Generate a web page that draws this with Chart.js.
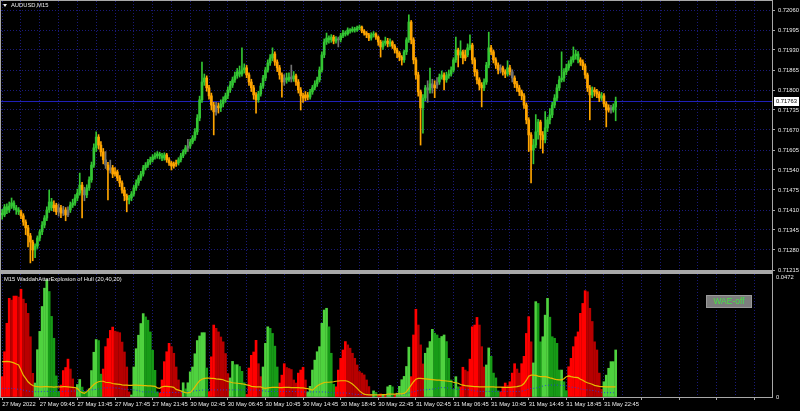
<!DOCTYPE html>
<html>
<head>
<meta charset="utf-8">
<title>AUDUSD,M15</title>
<script src="https://cdn.jsdelivr.net/npm/chart.js@4.4.1/dist/chart.umd.min.js"></script>
<style>
  html, body { margin: 0; padding: 0; background: #000; }
  #wrap { position: relative; width: 800px; height: 411px; overflow: hidden; background: #000; }
  canvas { position: absolute; left: 0; }
  #waeChart { top: 271px; }
  #priceChart { top: 0; }
  .txt { position: absolute; color: #ececec; font-family: 'Liberation Sans', Arial, sans-serif; font-size: 5.8px; line-height: 7px; white-space: nowrap; }
  #symbol { left: 11px; top: 2px; }
  #arrow { position: absolute; left: 3px; top: 4px; width: 0; height: 0; border-left: 2.5px solid transparent; border-right: 2.5px solid transparent; border-top: 3px solid #ececec; }
  #indName { left: 4px; top: 276px; }
  #waeBtn { position: absolute; left: 706px; top: 295px; width: 44px; height: 11px; background: #7d7d7d; border: 1px solid #9a9a9a; color: #44dd44; font: 8.5px 'Liberation Sans', Arial, sans-serif; line-height: 11px; text-align: center; }
</style>
</head>
<body>
<div id="wrap">
  <canvas id="waeChart" width="800" height="140"></canvas>
  <canvas id="priceChart" width="800" height="276"></canvas>
  <div id="arrow"></div>
  <div class="txt" id="symbol">AUDUSD,M15</div>
  <div class="txt" id="indName">M15 WaddahAttarExplosion of Hull (20,40,20)</div>
  <div id="waeBtn">WAE-off</div>
</div>
<script>
// time axis labels, one every 16 bars (4 hours of M15)
const timeLabels = ['27 May 2022', '27 May 09:45', '27 May 13:45', '27 May 17:45', '27 May 21:45',
  '30 May 02:45', '30 May 06:45', '30 May 10:45', '30 May 14:45', '30 May 18:45', '30 May 22:45',
  '31 May 02:45', '31 May 06:45', '31 May 10:45', '31 May 14:45', '31 May 18:45', '31 May 22:45'];
const priceTicks = [0.72060, 0.71995, 0.71930, 0.71865, 0.71800, 0.71735, 0.71670,
  0.71605, 0.71540, 0.71475, 0.71410, 0.71345, 0.71280, 0.71215];
const waeTicks = [0, 0.0472];
const bidPrice = 0.71763;

const open = [
  0.71400,0.71394,0.71420,0.71410,0.71423,0.71433,0.71417,0.71410,0.71404,0.71391,
  0.71371,0.71352,0.71326,0.71306,0.71280,0.71293,0.71319,0.71339,0.71361,0.71384,
  0.71410,0.71436,0.71417,0.71426,0.71404,0.71417,0.71400,0.71410,0.71394,0.71410,
  0.71426,0.71433,0.71449,0.71465,0.71491,0.71475,0.71459,0.71482,0.71508,0.71556,
  0.71612,0.71647,0.71621,0.71599,0.71573,0.71556,0.71540,0.71547,0.71527,0.71534,
  0.71514,0.71498,0.71475,0.71456,0.71443,0.71449,0.71462,0.71482,0.71498,0.71514,
  0.71527,0.71547,0.71556,0.71566,0.71573,0.71582,0.71586,0.71592,0.71586,0.71579,
  0.71589,0.71573,0.71563,0.71553,0.71560,0.71563,0.71573,0.71586,0.71599,0.71612,
  0.71618,0.71631,0.71644,0.71664,0.71709,0.71768,0.71826,0.71839,0.71807,0.71781,
  0.71751,0.71729,0.71748,0.71742,0.71755,0.71768,0.71781,0.71800,0.71816,0.71833,
  0.71846,0.71859,0.71852,0.71865,0.71872,0.71849,0.71826,0.71807,0.71784,0.71768,
  0.71787,0.71813,0.71839,0.71865,0.71888,0.71904,0.71917,0.71891,0.71872,0.71849,
  0.71826,0.71839,0.71833,0.71842,0.71836,0.71846,0.71826,0.71800,0.71781,0.71774,
  0.71784,0.71777,0.71794,0.71807,0.71820,0.71833,0.71865,0.71914,0.71956,0.71969,
  0.71963,0.71972,0.71959,0.71966,0.71963,0.71976,0.71985,0.71982,0.71995,0.71992,
  0.71998,0.71995,0.72002,0.72005,0.71992,0.71985,0.71979,0.71969,0.71979,0.71982,
  0.71972,0.71956,0.71940,0.71953,0.71959,0.71950,0.71956,0.71943,0.71930,0.71920,
  0.71907,0.71898,0.71924,0.71963,0.72021,0.71963,0.71898,0.71849,0.71794,0.71742,
  0.71774,0.71807,0.71800,0.71820,0.71807,0.71816,0.71826,0.71842,0.71849,0.71833,
  0.71846,0.71852,0.71865,0.71898,0.71930,0.71914,0.71924,0.71904,0.71914,0.71937,
  0.71946,0.71898,0.71859,0.71833,0.71816,0.71807,0.71826,0.71881,0.71937,0.71924,
  0.71898,0.71881,0.71865,0.71872,0.71859,0.71852,0.71872,0.71859,0.71839,0.71820,
  0.71807,0.71794,0.71781,0.71751,0.71703,0.71654,0.71605,0.71621,0.71664,0.71696,
  0.71654,0.71638,0.71677,0.71703,0.71719,0.71751,0.71774,0.71807,0.71833,0.71839,
  0.71859,0.71872,0.71885,0.71898,0.71911,0.71917,0.71898,0.71891,0.71878,0.71849,
  0.71807,0.71784,0.71800,0.71794,0.71787,0.71774,0.71781,0.71755,0.71735,0.71742,
  0.71735,0.71745
];
const high = [
  0.71412,0.71428,0.71430,0.71436,0.71449,0.71440,0.71425,0.71418,0.71410,0.71398,
  0.71378,0.71360,0.71334,0.71312,0.71300,0.71326,0.71346,0.71372,0.71392,0.71420,
  0.71475,0.71448,0.71440,0.71432,0.71430,0.71425,0.71422,0.71418,0.71420,0.71436,
  0.71445,0.71460,0.71478,0.71530,0.71500,0.71484,0.71492,0.71518,0.71566,0.71625,
  0.71664,0.71655,0.71632,0.71610,0.71600,0.71565,0.71572,0.71555,0.71548,0.71540,
  0.71522,0.71505,0.71484,0.71462,0.71458,0.71470,0.71490,0.71508,0.71522,0.71536,
  0.71555,0.71564,0.71575,0.71582,0.71590,0.71596,0.71600,0.71598,0.71594,0.71596,
  0.71594,0.71580,0.71568,0.71566,0.71572,0.71580,0.71594,0.71606,0.71620,0.71640,
  0.71640,0.71652,0.71675,0.71720,0.71780,0.71891,0.71852,0.71846,0.71815,0.71790,
  0.71760,0.71760,0.71758,0.71768,0.71778,0.71790,0.71810,0.71828,0.71842,0.71858,
  0.71870,0.71878,0.71937,0.71885,0.71880,0.71856,0.71835,0.71815,0.71792,0.71796,
  0.71822,0.71848,0.71874,0.71898,0.71915,0.71937,0.71924,0.71898,0.71880,0.71856,
  0.71850,0.71855,0.71856,0.71881,0.71860,0.71852,0.71834,0.71808,0.71790,0.71795,
  0.71792,0.71802,0.71815,0.71830,0.71842,0.71875,0.71924,0.71966,0.71985,0.71976,
  0.71980,0.71978,0.71974,0.71972,0.71984,0.71994,0.71992,0.72002,0.72000,0.72005,
  0.72004,0.72008,0.72011,0.72008,0.71996,0.71990,0.71984,0.71986,0.71990,0.71986,
  0.71976,0.71962,0.71960,0.71972,0.71968,0.71966,0.71960,0.71948,0.71936,0.71925,
  0.71912,0.71930,0.71970,0.72044,0.72026,0.71970,0.71905,0.71858,0.71800,0.71785,
  0.71815,0.71830,0.71871,0.71835,0.71830,0.71840,0.71852,0.71862,0.71856,0.71858,
  0.71865,0.71875,0.71905,0.71972,0.71936,0.71960,0.71930,0.71930,0.71950,0.71979,
  0.71952,0.71905,0.71866,0.71840,0.71824,0.71836,0.71890,0.71988,0.71945,0.71930,
  0.71905,0.71888,0.71882,0.71878,0.71866,0.71895,0.71880,0.71866,0.71846,0.71828,
  0.71815,0.71800,0.71788,0.71758,0.71710,0.71662,0.71640,0.71720,0.71705,0.71702,
  0.71665,0.71730,0.71712,0.71740,0.71760,0.71785,0.71818,0.71845,0.71924,0.71870,
  0.71884,0.71895,0.71908,0.71940,0.71930,0.71925,0.71905,0.71898,0.71885,0.71855,
  0.71815,0.71810,0.71808,0.71802,0.71795,0.71792,0.71788,0.71762,0.71752,0.71750,
  0.71755,0.71777
];
const low = [
  0.71380,0.71388,0.71398,0.71402,0.71415,0.71410,0.71396,0.71395,0.71382,0.71360,
  0.71330,0.71290,0.71238,0.71245,0.71255,0.71285,0.71310,0.71330,0.71352,0.71375,
  0.71402,0.71408,0.71405,0.71395,0.71390,0.71385,0.71392,0.71375,0.71388,0.71402,
  0.71418,0.71425,0.71440,0.71458,0.71384,0.71440,0.71450,0.71474,0.71500,0.71548,
  0.71600,0.71608,0.71585,0.71560,0.71545,0.71443,0.71530,0.71515,0.71520,0.71505,
  0.71486,0.71465,0.71440,0.71404,0.71430,0.71440,0.71455,0.71474,0.71490,0.71506,
  0.71520,0.71540,0.71548,0.71558,0.71566,0.71575,0.71578,0.71576,0.71570,0.71572,
  0.71565,0.71555,0.71540,0.71546,0.71552,0.71556,0.71566,0.71580,0.71592,0.71600,
  0.71610,0.71625,0.71636,0.71655,0.71700,0.71760,0.71815,0.71796,0.71770,0.71735,
  0.71654,0.71718,0.71725,0.71730,0.71745,0.71760,0.71772,0.71792,0.71808,0.71825,
  0.71838,0.71842,0.71845,0.71855,0.71840,0.71815,0.71795,0.71770,0.71725,0.71760,
  0.71780,0.71805,0.71830,0.71858,0.71880,0.71895,0.71880,0.71860,0.71835,0.71777,
  0.71815,0.71822,0.71828,0.71826,0.71828,0.71815,0.71790,0.71735,0.71760,0.71765,
  0.71768,0.71770,0.71786,0.71800,0.71812,0.71826,0.71858,0.71905,0.71948,0.71952,
  0.71955,0.71950,0.71952,0.71940,0.71956,0.71970,0.71975,0.71978,0.71985,0.71988,
  0.71988,0.71990,0.71996,0.71986,0.71978,0.71970,0.71960,0.71962,0.71972,0.71964,
  0.71945,0.71907,0.71932,0.71945,0.71940,0.71942,0.71935,0.71920,0.71905,0.71895,
  0.71881,0.71890,0.71915,0.71955,0.71950,0.71885,0.71835,0.71780,0.71621,0.71660,
  0.71765,0.71760,0.71790,0.71790,0.71775,0.71805,0.71818,0.71835,0.71800,0.71825,
  0.71838,0.71845,0.71858,0.71890,0.71875,0.71905,0.71885,0.71895,0.71908,0.71930,
  0.71885,0.71845,0.71820,0.71800,0.71745,0.71798,0.71818,0.71872,0.71915,0.71888,
  0.71870,0.71852,0.71855,0.71848,0.71840,0.71845,0.71848,0.71826,0.71808,0.71795,
  0.71782,0.71768,0.71740,0.71690,0.71600,0.71498,0.71560,0.71612,0.71640,0.71610,
  0.71595,0.71628,0.71665,0.71690,0.71710,0.71742,0.71765,0.71798,0.71826,0.71828,
  0.71850,0.71864,0.71878,0.71890,0.71900,0.71888,0.71880,0.71866,0.71838,0.71795,
  0.71703,0.71775,0.71780,0.71775,0.71762,0.71766,0.71745,0.71680,0.71728,0.71725,
  0.71728,0.71700
];
const close = [
  0.71394,0.71420,0.71410,0.71423,0.71433,0.71417,0.71410,0.71404,0.71391,0.71371,
  0.71352,0.71326,0.71306,0.71280,0.71293,0.71319,0.71339,0.71361,0.71384,0.71410,
  0.71436,0.71417,0.71426,0.71404,0.71417,0.71400,0.71410,0.71394,0.71410,0.71426,
  0.71433,0.71449,0.71465,0.71491,0.71475,0.71459,0.71482,0.71508,0.71556,0.71612,
  0.71647,0.71621,0.71599,0.71573,0.71556,0.71540,0.71547,0.71527,0.71534,0.71514,
  0.71498,0.71475,0.71456,0.71443,0.71449,0.71462,0.71482,0.71498,0.71514,0.71527,
  0.71547,0.71556,0.71566,0.71573,0.71582,0.71586,0.71592,0.71586,0.71579,0.71589,
  0.71573,0.71563,0.71553,0.71560,0.71563,0.71573,0.71586,0.71599,0.71612,0.71618,
  0.71631,0.71644,0.71664,0.71709,0.71768,0.71826,0.71839,0.71807,0.71781,0.71751,
  0.71729,0.71748,0.71742,0.71755,0.71768,0.71781,0.71800,0.71816,0.71833,0.71846,
  0.71859,0.71852,0.71865,0.71872,0.71849,0.71826,0.71807,0.71784,0.71768,0.71787,
  0.71813,0.71839,0.71865,0.71888,0.71904,0.71917,0.71891,0.71872,0.71849,0.71826,
  0.71839,0.71833,0.71842,0.71836,0.71846,0.71826,0.71800,0.71781,0.71774,0.71784,
  0.71777,0.71794,0.71807,0.71820,0.71833,0.71865,0.71914,0.71956,0.71969,0.71963,
  0.71972,0.71959,0.71966,0.71963,0.71976,0.71985,0.71982,0.71995,0.71992,0.71998,
  0.71995,0.72002,0.72005,0.71992,0.71985,0.71979,0.71969,0.71979,0.71982,0.71972,
  0.71956,0.71940,0.71953,0.71959,0.71950,0.71956,0.71943,0.71930,0.71920,0.71907,
  0.71898,0.71924,0.71963,0.72021,0.71963,0.71898,0.71849,0.71794,0.71742,0.71774,
  0.71807,0.71800,0.71820,0.71807,0.71816,0.71826,0.71842,0.71849,0.71833,0.71846,
  0.71852,0.71865,0.71898,0.71930,0.71914,0.71924,0.71904,0.71914,0.71937,0.71946,
  0.71898,0.71859,0.71833,0.71816,0.71807,0.71826,0.71881,0.71937,0.71924,0.71898,
  0.71881,0.71865,0.71872,0.71859,0.71852,0.71872,0.71859,0.71839,0.71820,0.71807,
  0.71794,0.71781,0.71751,0.71703,0.71654,0.71605,0.71621,0.71664,0.71696,0.71654,
  0.71638,0.71677,0.71703,0.71719,0.71751,0.71774,0.71807,0.71833,0.71839,0.71859,
  0.71872,0.71885,0.71898,0.71911,0.71917,0.71898,0.71891,0.71878,0.71849,0.71807,
  0.71784,0.71800,0.71794,0.71787,0.71774,0.71781,0.71755,0.71735,0.71742,0.71735,
  0.71745,0.71763
];
// bar colouring of the Hull filter: 1 up, -1 down, 0 flat
const trend = [
  1,1,1,1,1,1,1,1,-1,-1,
  -1,-1,-1,-1,1,1,1,1,1,1,
  1,1,-1,-1,0,-1,0,-1,0,1,
  1,1,1,1,-1,0,1,1,1,1,
  1,-1,-1,-1,0,-1,0,-1,-1,-1,
  -1,-1,-1,-1,1,1,1,1,1,1,
  1,1,1,1,1,1,1,1,1,1,
  -1,-1,-1,-1,-1,1,1,1,1,0,
  1,1,1,1,1,1,1,-1,-1,-1,
  -1,0,-1,1,1,1,1,1,1,1,
  1,1,1,1,-1,-1,-1,-1,-1,1,
  1,1,1,1,1,1,-1,-1,-1,-1,
  0,1,1,0,1,-1,-1,-1,-1,-1,
  -1,1,1,1,1,1,1,1,1,1,
  1,-1,1,0,1,1,1,1,1,1,
  1,1,1,-1,-1,-1,-1,1,1,-1,
  -1,-1,1,1,-1,1,-1,-1,-1,-1,
  -1,1,1,1,-1,-1,-1,-1,-1,1,
  1,0,1,0,-1,0,1,1,-1,1,
  1,1,1,1,-1,1,-1,-1,1,1,
  -1,-1,-1,-1,-1,1,1,1,-1,-1,
  -1,-1,0,-1,-1,1,-1,0,-1,-1,
  -1,-1,-1,-1,-1,-1,1,1,1,-1,
  -1,1,1,1,1,1,1,1,1,1,
  1,1,1,1,1,1,-1,-1,-1,-1,
  -1,1,-1,-1,-1,1,-1,-1,-1,0,
  1,1
];
// Waddah Attar histogram: positive = trend up (green), negative = trend down (red)
const waeHist = [
  -0.0080,-0.0178,-0.0290,-0.0388,-0.0381,-0.0397,-0.0397,-0.0393,-0.0424,-0.0385,
  -0.0368,-0.0329,-0.0237,-0.0093,0.0055,0.0186,0.0258,0.0356,0.0428,0.0461,
  0.0415,0.0317,0.0231,0.0083,0.0022,-0.0047,-0.0104,-0.0116,-0.0149,-0.0110,
  -0.0071,-0.0032,0.0049,0.0069,0.0039,0.0022,0.0020,0.0032,0.0104,0.0176,
  0.0226,0.0222,0.0090,-0.0110,-0.0198,-0.0230,-0.0262,-0.0275,-0.0259,-0.0256,
  -0.0253,-0.0216,-0.0177,-0.0118,-0.0020,0.0008,0.0118,0.0190,0.0243,0.0289,
  0.0328,0.0315,0.0302,0.0256,0.0184,0.0105,0.0020,-0.0016,-0.0067,-0.0139,
  -0.0178,-0.0211,-0.0198,-0.0172,-0.0118,-0.0067,-0.0021,0.0056,0.0032,0.0056,
  0.0099,0.0118,0.0170,0.0222,0.0240,0.0253,0.0253,0.0114,-0.0021,-0.0158,
  -0.0283,-0.0270,-0.0256,-0.0236,-0.0217,-0.0171,-0.0092,0.0075,0.0140,0.0127,
  0.0127,0.0120,0.0101,0.0056,-0.0010,-0.0114,-0.0164,-0.0177,-0.0223,-0.0131,
  -0.0080,0.0118,0.0211,0.0276,0.0270,0.0250,0.0200,0.0118,-0.0055,-0.0086,
  -0.0131,-0.0116,-0.0112,-0.0108,-0.0067,-0.0055,-0.0094,-0.0106,-0.0117,-0.0067,
  0.0020,0.0042,0.0106,0.0145,0.0178,0.0198,0.0290,0.0342,0.0349,0.0276,
  0.0172,0.0050,-0.0040,-0.0106,-0.0152,-0.0185,-0.0218,-0.0205,-0.0192,-0.0172,
  -0.0152,-0.0126,-0.0100,-0.0094,-0.0087,-0.0067,-0.0041,-0.0010,0.0024,0.0018,
  -0.0006,-0.0012,0.0008,-0.0006,0.0040,0.0046,0.0040,-0.0010,0.0015,0.0042,
  0.0068,0.0081,0.0120,0.0196,-0.0080,-0.0244,-0.0345,-0.0283,-0.0205,-0.0130,
  0.0172,0.0193,0.0218,0.0266,0.0251,0.0244,0.0231,0.0238,0.0244,0.0218,
  0.0152,0.0067,0.0030,0.0080,0.0040,-0.0040,-0.0117,-0.0106,-0.0100,-0.0149,
  -0.0276,-0.0283,-0.0313,-0.0283,-0.0198,-0.0118,0.0126,0.0193,0.0160,0.0094,
  0.0075,0.0024,-0.0020,-0.0040,-0.0055,-0.0045,-0.0060,-0.0094,-0.0131,-0.0110,
  -0.0094,-0.0131,-0.0160,-0.0250,-0.0316,-0.0217,0.0134,0.0375,0.0368,0.0217,
  0.0237,0.0322,0.0388,0.0314,0.0237,0.0231,0.0211,0.0106,0.0106,0.0060,
  0.0025,-0.0119,-0.0152,-0.0198,-0.0237,-0.0256,-0.0329,-0.0368,-0.0418,-0.0414,
  -0.0349,-0.0297,-0.0217,-0.0185,-0.0094,-0.0030,0.0060,0.0086,0.0113,0.0139,
  0.0139,0.0185
];
// explosion line (yellow)
const waeSignal = [
  0.0139,0.0139,0.0140,0.0139,0.0137,0.0134,0.0130,0.0126,0.0106,0.0086,
  0.0073,0.0060,0.0051,0.0045,0.0042,0.0041,0.0040,0.0040,0.0041,0.0041,
  0.0040,0.0040,0.0039,0.0040,0.0040,0.0040,0.0041,0.0041,0.0040,0.0039,
  0.0038,0.0037,0.0034,0.0023,0.0017,0.0014,0.0021,0.0030,0.0040,0.0049,
  0.0056,0.0060,0.0062,0.0062,0.0058,0.0057,0.0056,0.0053,0.0052,0.0051,
  0.0050,0.0048,0.0047,0.0047,0.0046,0.0046,0.0047,0.0047,0.0046,0.0046,
  0.0045,0.0045,0.0044,0.0044,0.0043,0.0042,0.0036,0.0034,0.0040,0.0042,
  0.0042,0.0041,0.0040,0.0038,0.0030,0.0027,0.0024,0.0020,0.0017,0.0016,
  0.0018,0.0027,0.0040,0.0053,0.0064,0.0070,0.0073,0.0074,0.0074,0.0073,
  0.0073,0.0071,0.0070,0.0069,0.0068,0.0064,0.0061,0.0059,0.0056,0.0055,
  0.0054,0.0053,0.0052,0.0050,0.0048,0.0046,0.0042,0.0041,0.0040,0.0040,
  0.0040,0.0036,0.0034,0.0036,0.0037,0.0038,0.0038,0.0038,0.0037,0.0037,
  0.0038,0.0038,0.0038,0.0037,0.0037,0.0037,0.0037,0.0036,0.0036,0.0034,
  0.0033,0.0030,0.0027,0.0035,0.0043,0.0049,0.0053,0.0057,0.0058,0.0058,
  0.0059,0.0060,0.0062,0.0063,0.0064,0.0064,0.0064,0.0062,0.0057,0.0051,
  0.0043,0.0034,0.0024,0.0017,0.0011,0.0009,0.0008,0.0008,0.0008,0.0008,
  0.0008,0.0008,0.0009,0.0009,0.0011,0.0011,0.0011,0.0011,0.0012,0.0012,
  0.0012,0.0014,0.0021,0.0034,0.0047,0.0060,0.0070,0.0073,0.0073,0.0072,
  0.0071,0.0070,0.0069,0.0068,0.0067,0.0066,0.0066,0.0065,0.0064,0.0063,
  0.0062,0.0061,0.0058,0.0056,0.0054,0.0049,0.0047,0.0045,0.0044,0.0043,
  0.0042,0.0041,0.0041,0.0040,0.0040,0.0040,0.0040,0.0040,0.0040,0.0040,
  0.0039,0.0039,0.0039,0.0038,0.0038,0.0038,0.0038,0.0039,0.0040,0.0041,
  0.0043,0.0045,0.0053,0.0066,0.0082,0.0086,0.0086,0.0085,0.0082,0.0080,
  0.0080,0.0080,0.0078,0.0075,0.0073,0.0070,0.0068,0.0067,0.0067,0.0072,
  0.0080,0.0083,0.0080,0.0078,0.0077,0.0076,0.0070,0.0066,0.0060,0.0056,
  0.0053,0.0050,0.0046,0.0044,0.0042,0.0041,0.0041,0.0040,0.0040,0.0040,
  0.0040,0.0040
];
// dead zone (blue dotted)
const waeDeadZone = [
  0.0034,0.0034,0.0034,0.0034,0.0034,0.0033,0.0032,0.0030,0.0029,0.0027,
  0.0025,0.0023,0.0022,0.0021,0.0021,0.0021,0.0021,0.0021,0.0022,0.0022,
  0.0022,0.0022,0.0022,0.0022,0.0022,0.0022,0.0022,0.0023,0.0023,0.0023,
  0.0023,0.0024,0.0024,0.0024,0.0025,0.0026,0.0027,0.0028,0.0028,0.0029,
  0.0030,0.0032,0.0034,0.0036,0.0036,0.0036,0.0036,0.0036,0.0036,0.0035,
  0.0034,0.0032,0.0031,0.0030,0.0030,0.0029,0.0028,0.0027,0.0025,0.0022,
  0.0020,0.0020,0.0020,0.0020,0.0020,0.0019,0.0019,0.0018,0.0018,0.0018,
  0.0018,0.0018,0.0018,0.0018,0.0018,0.0018,0.0018,0.0018,0.0019,0.0021,
  0.0022,0.0023,0.0024,0.0025,0.0026,0.0027,0.0028,0.0028,0.0028,0.0028,
  0.0028,0.0028,0.0028,0.0028,0.0028,0.0028,0.0028,0.0028,0.0028,0.0028,
  0.0028,0.0028,0.0028,0.0028,0.0028,0.0028,0.0028,0.0028,0.0028,0.0027,
  0.0026,0.0024,0.0023,0.0022,0.0022,0.0022,0.0022,0.0022,0.0022,0.0022,
  0.0022,0.0022,0.0022,0.0022,0.0022,0.0021,0.0021,0.0020,0.0020,0.0020,
  0.0020,0.0020,0.0020,0.0020,0.0020,0.0020,0.0020,0.0020,0.0019,0.0018,
  0.0017,0.0016,0.0016,0.0016,0.0016,0.0016,0.0016,0.0015,0.0014,0.0012,
  0.0011,0.0010,0.0010,0.0010,0.0010,0.0010,0.0010,0.0010,0.0010,0.0010,
  0.0010,0.0010,0.0010,0.0010,0.0010,0.0010,0.0010,0.0010,0.0010,0.0010,
  0.0010,0.0011,0.0013,0.0016,0.0019,0.0021,0.0023,0.0025,0.0027,0.0028,
  0.0028,0.0029,0.0030,0.0031,0.0032,0.0034,0.0036,0.0037,0.0037,0.0036,
  0.0035,0.0034,0.0032,0.0031,0.0030,0.0030,0.0030,0.0030,0.0029,0.0028,
  0.0026,0.0024,0.0023,0.0022,0.0022,0.0022,0.0022,0.0022,0.0022,0.0022,
  0.0022,0.0022,0.0022,0.0022,0.0022,0.0022,0.0022,0.0022,0.0022,0.0022,
  0.0022,0.0023,0.0025,0.0028,0.0031,0.0034,0.0034,0.0035,0.0037,0.0040,
  0.0043,0.0045,0.0046,0.0047,0.0047,0.0047,0.0047,0.0046,0.0046,0.0045,
  0.0044,0.0041,0.0039,0.0038,0.0037,0.0035,0.0032,0.0030,0.0028,0.0028,
  0.0027,0.0026,0.0025,0.0022,0.0020,0.0018,0.0017,0.0017,0.0017,0.0017,
  0.0017,0.0017
];

const totalSlots = 328; // visible bar slots incl. chart shift
const gridColor = '#1a1a78';
const frameColor = '#a8a8a8';
const textColor = '#ececec';
const tickFont = { family: "'Liberation Sans', Arial, sans-serif", size: 5.8 };

const slots = [];
for (let i = 0; i < totalSlots; i++) {
  slots.push(i % 16 === 0 && timeLabels[i / 16] ? timeLabels[i / 16] : '');
}

const candleColors = trend.map(t => t === 1 ? '#33c633' : (t === -1 ? '#ffa500' : '#727272'));
const bodies = open.map((o, i) => [Math.min(o, close[i]), Math.max(o, close[i])]);
const wicks = low.map((l, i) => [l, high[i]]);

const upBars = [], downBars = [], upColors = [], downColors = [];
waeHist.forEach((v, i) => {
  const prev = i > 0 ? waeHist[i - 1] : 0;
  const rising = Math.sign(prev) !== Math.sign(v) || Math.abs(v) >= Math.abs(prev);
  if (v >= 0) {
    upBars.push(v); downBars.push(null);
    upColors.push(rising ? '#4fd23f' : '#179b17'); downColors.push('#000');
  } else {
    upBars.push(null); downBars.push(-v);
    upColors.push('#000'); downColors.push(rising ? '#ff0000' : '#b80000');
  }
});

function keepEvery8(scale) {
  scale.ticks = scale.ticks.filter(t => t.value % 8 === 0);
}

const pricePanel = {
  id: 'pricePanel',
  beforeDatasetsDraw(chart) {
    const { ctx, chartArea: a, scales: { y } } = chart;
    const py = Math.round(y.getPixelForValue(bidPrice)) + 0.5;
    ctx.save();
    ctx.strokeStyle = '#2020b8';
    ctx.lineWidth = 1;
    ctx.beginPath();
    ctx.moveTo(a.left, py);
    ctx.lineTo(a.right, py);
    ctx.stroke();
    ctx.restore();
  },
  afterDraw(chart) {
    const { ctx, chartArea: a, scales: { y } } = chart;
    ctx.save();
    ctx.fillStyle = frameColor;
    ctx.fillRect(0, 0, a.right + 1, 1);
    ctx.fillRect(0, 0, 1, a.bottom + 1);
    ctx.fillRect(a.right, 0, 1, a.bottom + 1);
    ctx.fillRect(0, a.bottom, a.right + 1, 1);
    const py = Math.round(y.getPixelForValue(bidPrice));
    ctx.fillStyle = '#ffffff';
    ctx.fillRect(a.right + 2, py - 4, 25, 9);
    ctx.fillStyle = '#000000';
    ctx.font = "5.8px 'Liberation Sans', Arial, sans-serif";
    ctx.textBaseline = 'middle';
    ctx.fillText(bidPrice.toFixed(5), a.right + 4, py + 0.5);
    ctx.restore();
  }
};

const waePanel = {
  id: 'waePanel',
  afterDraw(chart) {
    const { ctx, chartArea: a } = chart;
    ctx.save();
    ctx.fillStyle = frameColor;
    ctx.fillRect(0, 0, a.right + 1, 3);
    ctx.fillRect(0, 0, 1, a.bottom + 1);
    ctx.fillRect(a.right, 0, 1, a.bottom + 1);
    ctx.fillRect(0, a.bottom, a.right + 1, 1);
    ctx.restore();
  }
};

new Chart(document.getElementById('priceChart'), {
  type: 'bar',
  data: {
    labels: slots,
    datasets: [
      { data: bodies, backgroundColor: candleColors, barThickness: 2, minBarLength: 1, grouped: false },
      { data: wicks, backgroundColor: candleColors, barThickness: 1, grouped: false }
    ]
  },
  options: {
    responsive: false,
    animation: false,
    events: [],
    layout: { padding: { left: 1, top: 1, bottom: 6, right: 0 } },
    plugins: { legend: { display: false }, tooltip: { enabled: false } },
    scales: {
      x: {
        ticks: { display: false, autoSkip: false },
        grid: { color: gridColor, drawTicks: false, offset: false },
        border: { display: false, dash: [1, 2] },
        afterBuildTicks: keepEvery8,
        afterFit: s => { s.paddingLeft = 0; s.paddingRight = 0; }
      },
      y: {
        position: 'right',
        min: 0.71215,
        max: 0.7208925,
        afterBuildTicks: s => { s.ticks = priceTicks.map(v => ({ value: v })); },
        afterFit: s => { s.width = 28; s.paddingTop = 0; s.paddingBottom = 0; },
        ticks: { color: textColor, font: tickFont, padding: 3, callback: v => Number(v).toFixed(5) },
        grid: { color: gridColor, tickColor: frameColor, tickLength: 3 },
        border: { display: false, dash: [1, 2] }
      }
    }
  },
  plugins: [pricePanel]
});

new Chart(document.getElementById('waeChart'), {
  type: 'bar',
  data: {
    labels: slots,
    datasets: [
      { type: 'line', data: waeSignal, borderColor: '#e6bc00', borderWidth: 1.2, pointRadius: 0, tension: 0 },
      { type: 'line', data: waeDeadZone, borderColor: '#2a3ce0', borderWidth: 1, borderDash: [1, 2], pointRadius: 0, tension: 0 },
      { data: upBars, backgroundColor: upColors, barThickness: 2, grouped: false },
      { data: downBars, backgroundColor: downColors, barThickness: 2, grouped: false }
    ]
  },
  options: {
    responsive: false,
    animation: false,
    events: [],
    layout: { padding: { left: 1, top: 3, bottom: 0, right: 0 } },
    plugins: { legend: { display: false }, tooltip: { enabled: false } },
    scales: {
      x: {
        ticks: { color: textColor, font: tickFont, autoSkip: false, maxRotation: 0, minRotation: 0, align: 'start', padding: 1 },
        grid: {
          color: gridColor,
          offset: false,
          tickLength: 3,
          tickColor: c => (c.tick && c.tick.value % 16 === 0) ? frameColor : 'rgba(0,0,0,0)'
        },
        border: { display: false, dash: [1, 2] },
        afterBuildTicks: keepEvery8,
        afterFit: s => { s.height = 14; s.paddingLeft = 0; s.paddingRight = 0; }
      },
      y: {
        position: 'right',
        min: 0,
        max: 0.04838,
        afterBuildTicks: s => { s.ticks = waeTicks.map(v => ({ value: v })); },
        afterFit: s => { s.width = 28; s.paddingTop = 0; s.paddingBottom = 0; },
        ticks: { color: textColor, font: tickFont, padding: 4, callback: v => v === 0 ? '0' : String(v) },
        grid: { drawOnChartArea: false, drawTicks: false },
        border: { display: false }
      }
    }
  },
  plugins: [waePanel]
});
</script>
</body>
</html>
